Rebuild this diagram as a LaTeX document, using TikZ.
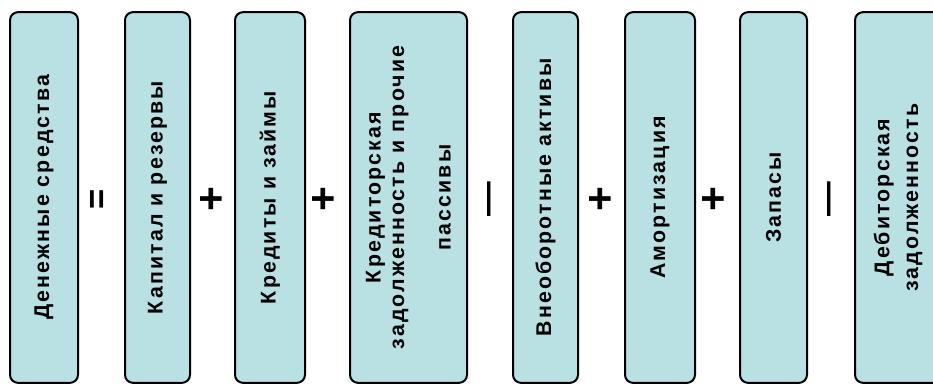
\documentclass[tikz,border=0pt]{standalone}
\usepackage{fontspec}
\setmainfont{Liberation Sans}[LetterSpace=10]
\definecolor{fundfill}{RGB}{185,224,227}

\begin{document}
\begin{tikzpicture}[x=0.75pt, y=-0.75pt,
  fund/.style={rectangle, draw=black, line width=1.5pt, rounded corners=6pt,
               fill=fundfill, rotate=90, minimum width=278pt, inner sep=0pt,
               align=center, font=\fontsize{16}{17.5}\selectfont\bfseries},
  op/.style={rotate=90, inner sep=0pt, font=\fontsize{32}{32}\selectfont\bfseries},
  smallop/.style={op, font=\fontsize{26}{26}\selectfont\bfseries},
]
  \clip (0,0) rectangle (933,385);

  % Left side of the balance
  \node[fund, minimum height=51pt] (cash) at (44,197.5) {Денежные средства};
  \node[smallop] (eq) at (99,199) {=};

  % Sources
  \node[fund, minimum height=48.75pt] (capital) at (157.5,197.5) {Капитал и резервы};
  \node[op] (plusa) at (213,199) {+};
  \node[fund, minimum height=52.5pt] (loans) at (270,197.5) {Кредиты и займы};
  \node[op] (plusb) at (325,199) {+};
  \node[fund, minimum height=87.75pt] (payable) at (408.5,197.5)
       {Кредиторская\\задолженность и прочие\\[17.5pt]пассивы};
  \node[smallop] (minusa) at (493,199) {—};

  % Uses
  \node[fund, minimum height=48.75pt] (fixed) at (545.5,197.5) {Внеоборотные активы};
  \node[op] (plusc) at (602,199) {+};
  \node[fund, minimum height=52.5pt] (amort) at (660,197.5) {Амортизация};
  \node[op] (plusd) at (715,199) {+};
  \node[fund, minimum height=50.25pt] (stock) at (773.5,197.5) {Запасы};
  \node[smallop] (minusb) at (833,199) {—};
  \node[fund, minimum height=64.5pt] (receivable) at (898,197.5)
       {Дебиторская\\[4pt]задолженность};

\end{tikzpicture}
\end{document}
